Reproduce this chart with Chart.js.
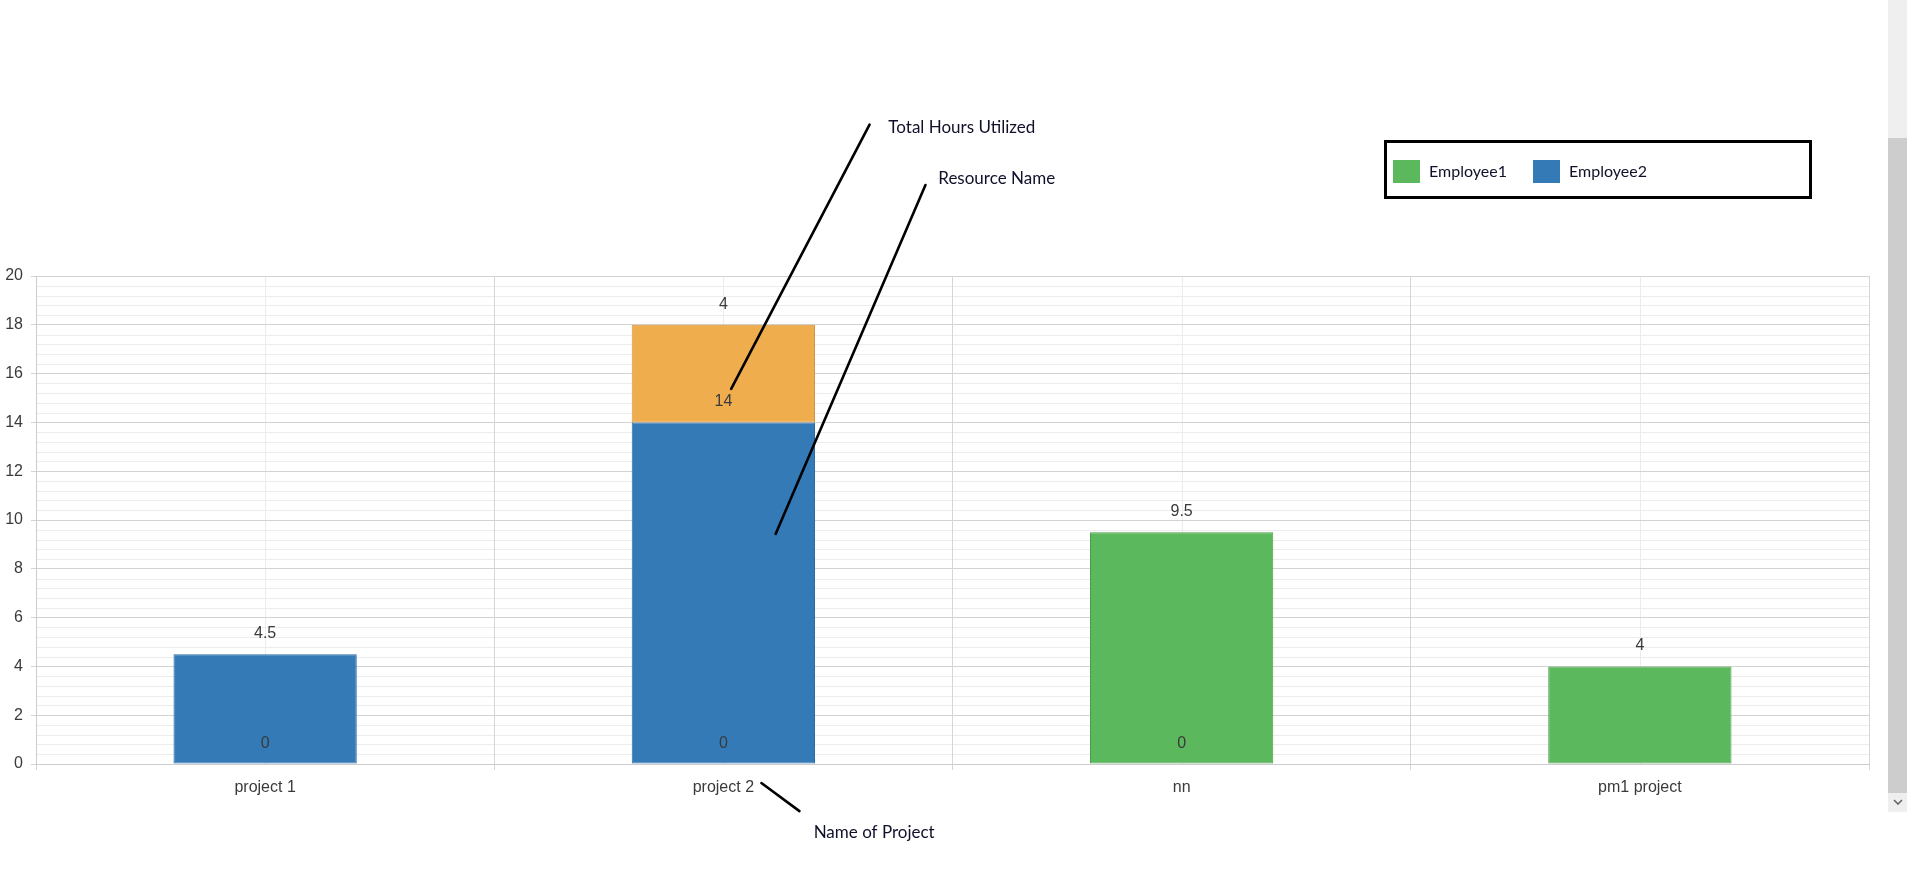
<!DOCTYPE html>
<html>
<head>
<meta charset="utf-8">
<script src="https://cdn.jsdelivr.net/npm/chart.js"></script>
<style>
  html, body { margin: 0; padding: 0; background: #fff; overflow: hidden; }
  #chartBox { position: absolute; left: 0; top: 0; width: 1907px; height: 880px; }
  .sb { position: absolute; left: 1888px; width: 19px; }
  .sb svg { display: block; margin: 6px auto 0; }
</style>
</head>
<body>
<div id="chartBox"><canvas id="hours" width="1907" height="880"></canvas></div>
<!-- page scrollbar from the screenshot -->
<div class="sb" style="top:0;height:138px;background:#efefef"></div>
<div class="sb" style="top:138px;height:655px;background:#cdcdcd"></div>
<div class="sb" style="top:793px;height:19px;background:#efefef">
  <svg width="10" height="6"><polyline points="1,1 5,5 9,1" fill="none" stroke="#666" stroke-width="1.6"/></svg>
</div>
<script>
  "use strict";

  // data
  const projects = ["project 1", "project 2", "nn", "pm1 project"];
  const employee1Hours = [0, 0, 9.5, 4];
  const employee2Hours = [4.5, 14, 0, null];
  const otherHours = [null, 4, null, null];
  const yMax = 20;
  const yStep = 2;
  const yMinorStep = 0.4;

  // callouts: [category index, value] pairs on the chart's scales
  const callouts = [
    { text: "Total Hours Utilized", from: [1.017, 15.37], to: [1.319, 26.2], at: [1.36, 26.1] },
    { text: "Resource Name", from: [1.114, 9.43], to: [1.441, 23.73], at: [1.469, 23.98] },
    { text: "Name of Project", from: [1.083, -0.78], to: [1.166, -1.93], at: [1.197, -2.79] }
  ];

  const noteFont = '17px Lato';
  const legendFont = '16px Lato';
  const tickFont = { family: "'Liberation Sans', Arial, sans-serif", size: 16 };

  const extras = {
    id: "extras",
    beforeDraw(chart) {
      // light minor grid under the main grid
      const { ctx, chartArea: a, scales: { x, y } } = chart;
      ctx.save();
      ctx.strokeStyle = "#ececec";
      ctx.lineWidth = 1;
      ctx.beginPath();
      for (let i = 1; i * yMinorStep < yMax; i++) {
        if (i % 5 === 0) continue;
        const py = Math.round(y.getPixelForValue(i * yMinorStep)) + 0.5;
        ctx.moveTo(a.left, py);
        ctx.lineTo(a.right, py);
      }
      projects.forEach((p, i) => {
        const px = Math.round(x.getPixelForValue(i)) + 0.5;
        ctx.moveTo(px, a.top);
        ctx.lineTo(px, a.bottom);
      });
      ctx.stroke();
      ctx.restore();
    },
    afterDatasetsDraw(chart) {
      const { ctx, scales: { y } } = chart;
      ctx.save();
      ctx.font = "16px 'Liberation Sans', Arial, sans-serif";
      ctx.fillStyle = "#3a3a3a";
      ctx.textAlign = "center";
      ctx.textBaseline = "middle";
      chart.data.datasets.forEach((ds, di) => {
        chart.getDatasetMeta(di).data.forEach((bar, i) => {
          const v = ds.data[i];
          if (v === null || v === undefined) return;
          const top = v === 0 ? y.getPixelForValue(0) : bar.y;
          ctx.fillText(String(v), bar.x, top - 20.5);
        });
      });
      ctx.restore();
    },
    afterDraw(chart) {
      const { ctx, scales: { x, y } } = chart;
      const pt = (p) => [x.getPixelForValue(p[0]), y.getPixelForValue(p[1])];
      ctx.save();
      // callout lines and texts
      ctx.strokeStyle = "#000";
      ctx.lineWidth = 2.6;
      ctx.lineCap = "round";
      ctx.font = noteFont;
      ctx.fillStyle = "#10102a";
      ctx.textBaseline = "middle";
      callouts.forEach(c => {
        const f = pt(c.from), t = pt(c.to), at = pt(c.at);
        ctx.beginPath();
        ctx.moveTo(f[0], f[1]);
        ctx.lineTo(t[0], t[1]);
        ctx.stroke();
        ctx.fillText(c.text, at[0], at[1]);
      });

      // boxed legend, top right
      ctx.lineCap = "butt";
      ctx.lineWidth = 3;
      ctx.strokeRect(1385.5, 141.5, 425, 56);
      ctx.font = legendFont;
      let lx = 1393;
      chart.data.datasets.forEach(ds => {
        if (!ds.label) return;
        ctx.fillStyle = ds.backgroundColor;
        ctx.fillRect(lx, 160, 27, 23);
        ctx.fillStyle = "#10102a";
        ctx.fillText(ds.label, lx + 36, 172);
        lx += 140;
      });
      ctx.restore();
    }
  };

  new Chart(document.getElementById("hours"), {
    type: "bar",
    data: {
      labels: projects,
      datasets: [
        { label: "Employee1", data: employee1Hours, backgroundColor: "#5cb85c", borderColor: "#4a9e4a" },
        { label: "Employee2", data: employee2Hours, backgroundColor: "#337ab7", borderColor: "#2d6aa0" },
        { label: "", data: otherHours, backgroundColor: "#f0ad4e", borderColor: "#d6953c" }
      ]
    },
    options: {
      responsive: false,
      animation: false,
      maintainAspectRatio: false,
      layout: { padding: { top: 276, right: 38, left: 0, bottom: 0 } },
      datasets: {
        bar: { barPercentage: 0.4, categoryPercentage: 1, borderWidth: 1, borderSkipped: false }
      },
      plugins: {
        legend: { display: false },
        tooltip: { enabled: false }
      },
      scales: {
        x: {
          stacked: true,
          offset: true,
          afterFit: s => { s.height = 116; },
          grid: { offset: true, color: "#d6d6d6", tickLength: 6 },
          border: { color: "#cccccc" },
          ticks: { color: "#3a3a3a", font: tickFont, padding: 8, maxRotation: 0 }
        },
        y: {
          stacked: true,
          min: 0,
          max: yMax,
          afterFit: s => { s.width = 36; },
          grid: { color: "#d3d3d3", tickLength: 5 },
          border: { color: "#cccccc" },
          ticks: { stepSize: yStep, color: "#3a3a3a", font: tickFont, padding: 8 }
        }
      }
    },
    plugins: [extras]
  });
</script>
</body>
</html>
